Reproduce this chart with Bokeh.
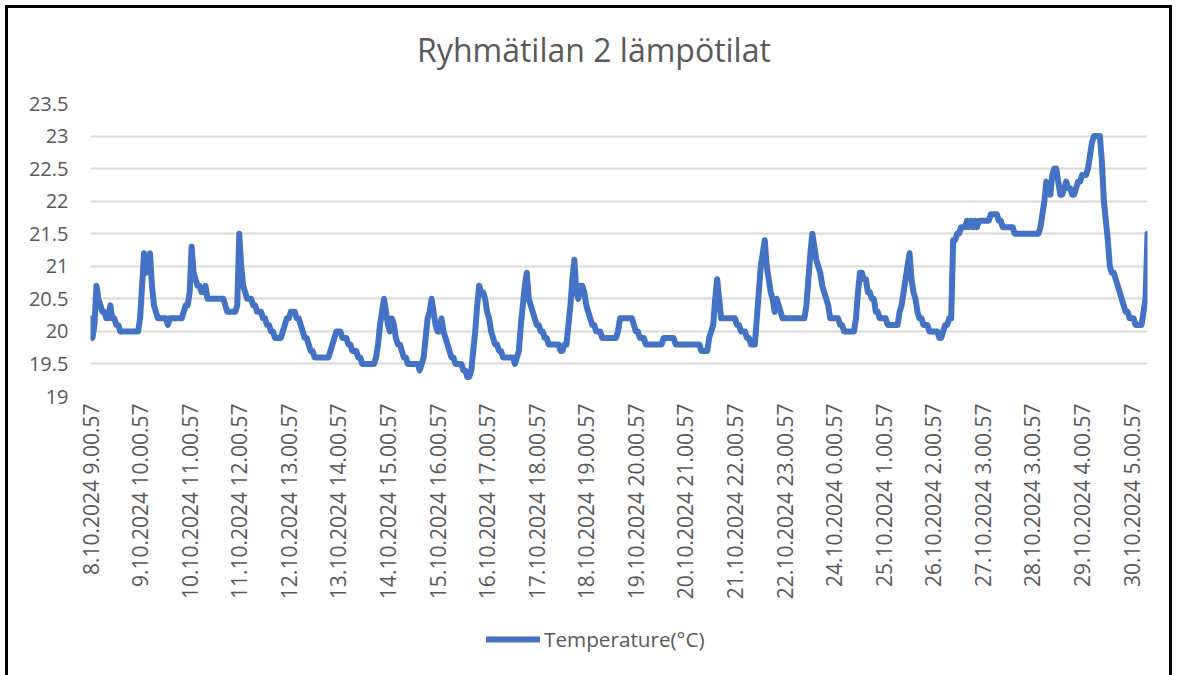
import math
from bokeh.plotting import figure
from bokeh.layouts import column
from bokeh.models import (ColumnDataSource, FixedTicker, Range1d, Legend, LegendItem,
                          PrintfTickFormatter, Label)
from bokeh.embed import file_html
from bokeh.resources import INLINE

# Hourly readings (one value per hour, 25 values per label step)
temperature = [
    # 8.10 9.00.57
    20.2, 19.9, 20.1, 20.7, 20.5, 20.4, 20.3, 20.3, 20.2, 20.2, 20.4, 20.2, 20.2,
    20.1, 20.1, 20.0, 20.0, 20.0, 20.0, 20.0, 20.0, 20.0, 20.0, 20.0, 20.0,
    # 9.10 10.00.57
    20.2, 20.7, 21.2, 20.9, 21.0, 21.2, 20.7, 20.4, 20.3, 20.2, 20.2, 20.2, 20.2,
    20.2, 20.1, 20.2, 20.2, 20.2, 20.2, 20.2, 20.2, 20.2, 20.3, 20.4, 20.4,
    # 10.10 11.00.57
    20.6, 21.3, 20.9, 20.8, 20.7, 20.7, 20.6, 20.6, 20.7, 20.5, 20.5, 20.5, 20.5,
    20.5, 20.5, 20.5, 20.5, 20.5, 20.4, 20.3, 20.3, 20.3, 20.3, 20.3, 20.4,
    # 11.10 12.00.57
    21.5, 21.0, 20.7, 20.6, 20.5, 20.5, 20.5, 20.4, 20.4, 20.3, 20.3, 20.3, 20.2,
    20.2, 20.1, 20.1, 20.0, 20.0, 19.9, 19.9, 19.9, 19.9, 20.0, 20.1, 20.2,
    # 12.10 13.00.57
    20.2, 20.3, 20.3, 20.3, 20.2, 20.2, 20.1, 20.0, 19.9, 19.9, 19.8, 19.7, 19.7,
    19.6, 19.6, 19.6, 19.6, 19.6, 19.6, 19.6, 19.6, 19.7, 19.8, 19.9, 20.0,
    # 13.10 14.00.57
    20.0, 20.0, 19.9, 19.9, 19.9, 19.8, 19.8, 19.7, 19.7, 19.7, 19.6, 19.6, 19.5,
    19.5, 19.5, 19.5, 19.5, 19.5, 19.5, 19.6, 19.8, 20.1, 20.3, 20.5, 20.3,
    # 14.10 15.00.57
    20.1, 20.0, 20.2, 20.1, 19.9, 19.8, 19.8, 19.7, 19.6, 19.6, 19.5, 19.5, 19.5,
    19.5, 19.5, 19.5, 19.4, 19.5, 19.6, 19.9, 20.2, 20.3, 20.5, 20.3, 20.1,
    # 15.10 16.00.57
    20.0, 20.0, 20.2, 20.0, 19.9, 19.8, 19.7, 19.6, 19.6, 19.5, 19.5, 19.5, 19.5,
    19.4, 19.4, 19.3, 19.3, 19.4, 19.7, 20.0, 20.4, 20.7, 20.6, 20.6, 20.5,
    # 16.10 17.00.57
    20.3, 20.2, 20.0, 19.9, 19.8, 19.8, 19.7, 19.7, 19.6, 19.6, 19.6, 19.6, 19.6,
    19.6, 19.5, 19.6, 19.7, 20.1, 20.4, 20.7, 20.9, 20.5, 20.4, 20.3, 20.2,
    # 17.10 18.00.57
    20.1, 20.1, 20.0, 20.0, 19.9, 19.9, 19.8, 19.8, 19.8, 19.8, 19.8, 19.8, 19.7,
    19.7, 19.8, 19.8, 20.1, 20.4, 20.8, 21.1, 20.6, 20.5, 20.7, 20.7, 20.6,
    # 18.10 19.00.57
    20.4, 20.3, 20.2, 20.1, 20.1, 20.0, 20.0, 20.0, 19.9, 19.9, 19.9, 19.9, 19.9,
    19.9, 19.9, 19.9, 20.0, 20.2, 20.2, 20.2, 20.2, 20.2, 20.2, 20.2, 20.1,
    # 19.10 20.00.57
    20.0, 20.0, 19.9, 19.9, 19.9, 19.8, 19.8, 19.8, 19.8, 19.8, 19.8, 19.8, 19.8,
    19.8, 19.9, 19.9, 19.9, 19.9, 19.9, 19.9, 19.8, 19.8, 19.8, 19.8, 19.8,
    # 20.10 21.00.57
    19.8, 19.8, 19.8, 19.8, 19.8, 19.8, 19.8, 19.8, 19.7, 19.7, 19.7, 19.7, 19.9,
    20.0, 20.1, 20.5, 20.8, 20.5, 20.2, 20.2, 20.2, 20.2, 20.2, 20.2, 20.2,
    # 21.10 22.00.57
    20.2, 20.1, 20.1, 20.0, 20.0, 20.0, 19.9, 19.9, 19.8, 19.8, 19.8, 20.2, 20.6,
    21.0, 21.2, 21.4, 21.0, 20.8, 20.6, 20.5, 20.3, 20.5, 20.4, 20.3, 20.2,
    # 22.10 23.00.57
    20.2, 20.2, 20.2, 20.2, 20.2, 20.2, 20.2, 20.2, 20.2, 20.2, 20.2, 20.4, 20.8,
    21.2, 21.5, 21.3, 21.1, 21.0, 20.9, 20.7, 20.6, 20.5, 20.4, 20.2, 20.2,
    # 24.10 0.00.57
    20.2, 20.2, 20.2, 20.1, 20.1, 20.0, 20.0, 20.0, 20.0, 20.0, 20.0, 20.2, 20.6,
    20.9, 20.9, 20.8, 20.8, 20.6, 20.6, 20.5, 20.5, 20.3, 20.3, 20.2, 20.2,
    # 25.10 1.00.57
    20.2, 20.2, 20.1, 20.1, 20.1, 20.1, 20.1, 20.1, 20.3, 20.4, 20.6, 20.8, 21.0,
    21.2, 20.8, 20.6, 20.5, 20.3, 20.2, 20.2, 20.1, 20.1, 20.1, 20.0, 20.0,
    # 26.10 2.00.57
    20.0, 20.0, 20.0, 19.9, 19.9, 20.0, 20.1, 20.1, 20.2, 20.2, 21.4, 21.4, 21.5,
    21.5, 21.6, 21.6, 21.6, 21.7, 21.6, 21.7, 21.6, 21.7, 21.6, 21.7, 21.7,
    # 27.10 3.00.57
    21.7, 21.7, 21.7, 21.7, 21.8, 21.8, 21.8, 21.8, 21.7, 21.7, 21.6, 21.6, 21.6,
    21.6, 21.6, 21.6, 21.5, 21.5, 21.5, 21.5, 21.5, 21.5, 21.5, 21.5, 21.5,
    # 28.10 3.00.57
    21.5, 21.5, 21.5, 21.5, 21.6, 21.8, 22.0, 22.3, 22.2, 22.1, 22.4, 22.5, 22.5,
    22.3, 22.1, 22.1, 22.2, 22.3, 22.2, 22.2, 22.1, 22.1, 22.2, 22.3, 22.3,
    # 29.10 4.00.57
    22.4, 22.4, 22.4, 22.5, 22.7, 22.9, 23.0, 23.0, 23.0, 23.0, 22.6, 22.0, 21.7,
    21.4, 21.0, 20.9, 20.9, 20.8, 20.7, 20.6, 20.5, 20.4, 20.3, 20.3, 20.2,
    # 30.10 5.00.57
    20.2, 20.2, 20.1, 20.1, 20.1, 20.1, 20.3, 20.5, 21.5,
]

tick_labels = [
    "8.10.2024 9.00.57", "9.10.2024 10.00.57", "10.10.2024 11.00.57",
    "11.10.2024 12.00.57", "12.10.2024 13.00.57", "13.10.2024 14.00.57",
    "14.10.2024 15.00.57", "15.10.2024 16.00.57", "16.10.2024 17.00.57",
    "17.10.2024 18.00.57", "18.10.2024 19.00.57", "19.10.2024 20.00.57",
    "20.10.2024 21.00.57", "21.10.2024 22.00.57", "22.10.2024 23.00.57",
    "24.10.2024 0.00.57", "25.10.2024 1.00.57", "26.10.2024 2.00.57",
    "27.10.2024 3.00.57", "28.10.2024 3.00.57", "29.10.2024 4.00.57",
    "30.10.2024 5.00.57",
]
label_step = 25
y_ticks = [19, 19.5, 20, 20.5, 21, 21.5, 22, 22.5, 23, 23.5]
series_name = "Temperature(°C)"
chart_title = "Ryhmätilan 2 lämpötilat"

FONT = "Open Sans"
GREY = "#595959"
BLUE = "#4472C4"
W = 1161
H_TITLE = 82
H_MAIN = 525
H_LEG = 60
BL, BR = 82, 22   # shared frame borders (frames in a column are aligned)

idx = list(range(len(temperature)))
src = ColumnDataSource(dict(x=idx, y=temperature))

# ---- title strip ----
tf = figure(width=W, height=H_TITLE, output_backend="svg", toolbar_location=None,
            x_range=Range1d(0, 1), y_range=Range1d(0, 1),
            min_border_left=BL, min_border_right=BR, min_border_top=0,
            min_border_bottom=0)
tf.axis.visible = False
tf.grid.visible = False
tf.outline_line_color = None
tf.border_fill_color = "white"
tf.add_layout(Label(x=0.5, y=0.5, x_offset=-25, text=chart_title,
                    text_align="center", text_baseline="middle",
                    text_font=FONT, text_font_size="32px", text_color=GREY))

# ---- main chart ----
p = figure(width=W, height=H_MAIN, output_backend="svg", toolbar_location=None,
           x_range=Range1d(0, len(temperature) - 1), y_range=Range1d(19, 23.5),
           min_border_left=BL, min_border_right=BR, min_border_top=13,
           min_border_bottom=219)
p.outline_line_color = None
p.background_fill_color = "white"
p.border_fill_color = "white"

r = p.line("x", "y", source=src, line_color=BLUE, line_width=6,
           line_join="round", line_cap="round")

p.xaxis.ticker = FixedTicker(ticks=[i * label_step for i in range(len(tick_labels))])
p.xaxis.major_label_overrides = {i * label_step: t for i, t in enumerate(tick_labels)}
p.xaxis.major_label_orientation = math.pi / 2
p.xaxis.major_label_text_font = FONT
p.xaxis.major_label_text_font_size = "21px"
p.xaxis.major_label_text_color = GREY
p.xaxis.major_label_standoff = 7
p.xaxis.major_tick_out = 0
p.xaxis.major_tick_in = 0
p.xaxis.axis_line_color = None
p.xaxis.major_tick_line_color = None
p.xaxis.minor_tick_line_color = None

p.yaxis.ticker = FixedTicker(ticks=y_ticks)
p.yaxis.formatter = PrintfTickFormatter(format="%g")
p.yaxis.major_label_text_font = FONT
p.yaxis.major_label_text_font_size = "20px"
p.yaxis.major_label_text_color = GREY
p.yaxis.major_label_standoff = 22
p.yaxis.major_tick_out = 0
p.yaxis.major_tick_in = 0
p.yaxis.axis_line_color = None
p.yaxis.major_tick_line_color = None
p.yaxis.minor_tick_line_color = None

p.xgrid.grid_line_color = None
p.ygrid.grid_line_color = "#d9d9d9"
p.ygrid.grid_line_width = 2

# ---- legend strip (its line renderer lies outside its own ranges) ----
lf = figure(width=W, height=H_LEG, output_backend="svg", toolbar_location=None,
            x_range=Range1d(-2, -1), y_range=Range1d(0, 1),
            min_border_left=BL, min_border_right=BR, min_border_top=0,
            min_border_bottom=12)
lf.axis.visible = False
lf.grid.visible = False
lf.outline_line_color = None
lf.border_fill_color = "white"
lr = lf.line("x", "y", source=src, line_color=BLUE, line_width=6, line_cap="round")
legend = Legend(items=[LegendItem(label=series_name, renderers=[lr])],
                location=(396, 10), orientation="horizontal",
                label_text_font=FONT, label_text_font_size="20.7px",
                label_text_color=GREY, glyph_width=54, glyph_height=20,
                label_standoff=4, border_line_color=None,
                background_fill_alpha=0, margin=0, padding=8)
lf.add_layout(legend, "center")

layout = column(tf, p, lf, spacing=0)
layout.styles = {"margin-left": "5px", "margin-top": "5px",
                 "border-left": "3px solid black", "border-top": "3px solid black",
                 "border-right": "3px solid black", "background": "white"}

open("out.html", "w").write(file_html(layout, INLINE))
